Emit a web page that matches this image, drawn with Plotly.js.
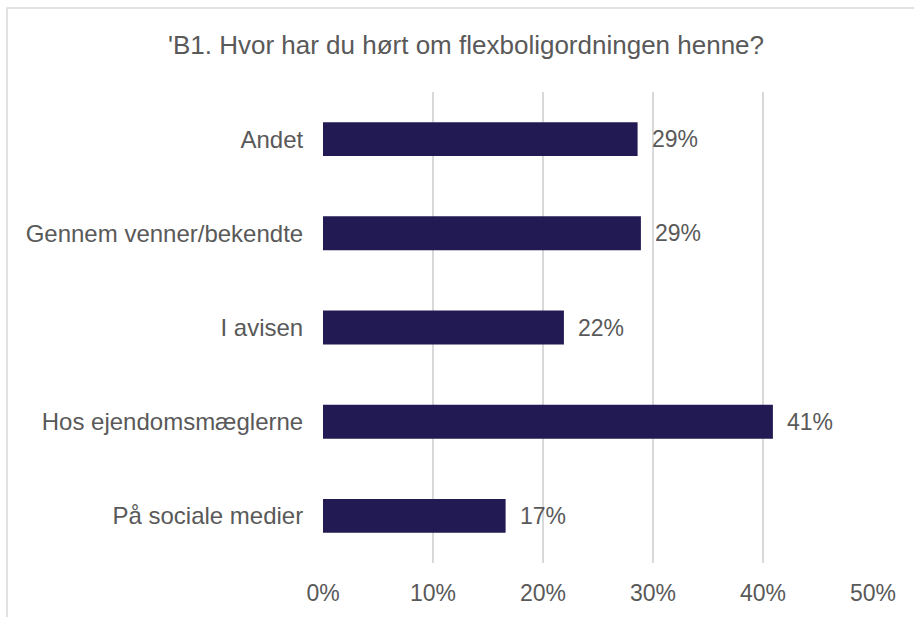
<!DOCTYPE html>
<html>
<head>
<meta charset="utf-8">
<script src="https://cdn.plot.ly/plotly-3.0.1.min.js"></script>
<style>html,body{margin:0;padding:0;background:#fff;}#chart{width:914px;height:617px;}</style>
</head>
<body>
<div id="chart"></div>
<script>
const categories = ["Andet", "Gennem venner/bekendte", "I avisen", "Hos ejendomsmæglerne", "På sociale medier"];
const values = [0.286, 0.289, 0.219, 0.409, 0.166];
const tickVals = [0, 0.1, 0.2, 0.3, 0.4, 0.5];
const tickText = ["0%", "10%", "20%", "30%", "40%", "50%"];
const titleText = "'B1. Hvor har du hørt om flexboligordningen henne?";

const textColor = "#595959";
const fontFamily = "Liberation Sans, Arial, sans-serif";

const trace = {
  type: "bar",
  orientation: "h",
  x: values,
  y: categories,
  marker: {color: "#221A52"},
  hoverinfo: "skip"
};

const annotations = values.map((v, i) => ({
  x: v, y: categories[i], xref: "x", yref: "y",
  text: Math.round(v * 100) + "%",
  showarrow: false, xanchor: "left", yanchor: "middle", xshift: 12,
  font: {family: fontFamily, size: 23, color: textColor}
}));

const layout = {
  width: 914, height: 617,
  margin: {l: 323, r: 41, t: 92, b: 54, pad: 0},
  paper_bgcolor: "#fff", plot_bgcolor: "#fff",
  showlegend: false,
  bargap: 0.64,
  title: {
    text: titleText,
    font: {family: fontFamily, size: 26, color: textColor},
    x: 466 / 914, xanchor: "center", xref: "container",
    y: 1 - 45 / 617, yanchor: "middle", yref: "container"
  },
  xaxis: {
    range: [0, 0.5],
    tickvals: tickVals, ticktext: tickText,
    showgrid: true, gridcolor: "#D9D9D9", gridwidth: 2,
    zeroline: false, showline: false,
    ticks: "outside", ticklen: 9, tickcolor: "rgba(0,0,0,0)",
    tickfont: {family: fontFamily, size: 23, color: textColor},
    fixedrange: true
  },
  yaxis: {
    autorange: "reversed",
    showgrid: false, zeroline: false, showline: false,
    ticks: "outside", ticklen: 14, tickcolor: "rgba(0,0,0,0)",
    tickfont: {family: fontFamily, size: 24, color: textColor},
    fixedrange: true
  },
  annotations: annotations,
  shapes: [{
    type: "rect", xref: "paper", yref: "paper",
    x0: (7 - 323) / 550, x1: (925 - 323) / 550,
    y0: (563 - 630) / 471, y1: (563 - 8) / 471,
    line: {color: "#D9D9D9", width: 1.5}, fillcolor: "rgba(0,0,0,0)", layer: "below"
  }]
};

Plotly.newPlot("chart", [trace], layout, {displayModeBar: false, staticPlot: true});
</script>
</body>
</html>
